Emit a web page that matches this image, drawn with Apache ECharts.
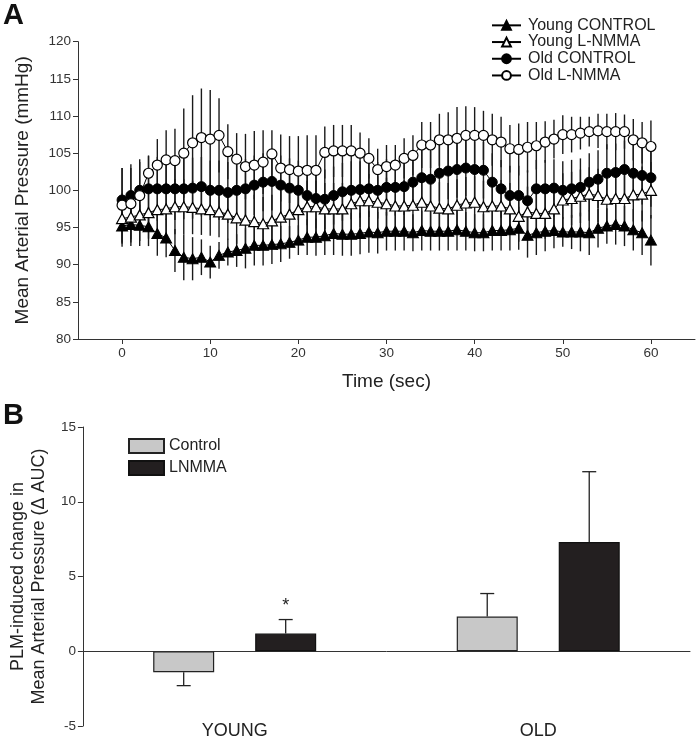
<!DOCTYPE html>
<html><head><meta charset="utf-8">
<script src="https://cdn.jsdelivr.net/npm/echarts@6/dist/echarts.min.js"></script>
<style>html,body{margin:0;padding:0;background:#fff}#c{width:698px;height:744px}</style>
</head><body><div id="c"></div>
<script>
// ---------- Panel A data ----------
const timeSec = [0,1,2,3,4,5,6,7,8,9,10,11,12,13,14,15,16,17,18,19,20,21,22,23,24,25,26,27,28,29,30,31,32,33,34,35,36,37,38,39,40,41,42,43,44,45,46,47,48,49,50,51,52,53,54,55,56,57,58,59,60];
const timeTicks = [0,10,20,30,40,50,60];

const youngControl = [95.2,95.4,95.3,95.1,94.2,93.6,91.9,91.0,90.8,91.0, 90.35,91.25,91.7,91.9,92.2,92.6,92.6,92.7,92.8,93.0, 93.3,93.7,93.7,93.9,94.2,94.1,94.1,94.2,94.4,94.3, 94.5,94.5,94.5,94.3,94.6,94.5,94.5,94.5,94.7,94.5, 94.3,94.3,94.6,94.6,94.7,94.9,93.95,94.3,94.5,94.6, 94.4,94.4,94.4,94.3,94.9,95.2,95.4,95.2,94.7,94.3,93.3];
const youngControlSD = [2.8,2.9,2.8,2.6,3.0,2.6,2.9,3.1,2.9,2.4, 2.2,1.8,1.8,2.2,2.7,2.7,2.7,2.6,2.45,2.2, 2.0,2.4,2.5,2.6,2.9,2.9,2.9,2.8,2.8,2.8, 2.6,2.6,2.6,2.5,2.7,2.6,2.6,2.6,2.8,2.6, 2.5,2.5,2.7,2.7,2.8,2.9,3.0,3.0,2.7,2.4, 2.0,2.3,2.6,3.0,2.6,2.4,2.7,2.7,2.8,3.0,3.4];

const youngLNMMA = [96.2,96.4,96.7,97.0,97.4,97.5,97.8,97.8,97.7,97.5, 97.4,97.1,96.8,96.3,96.0,95.8,95.5,95.9,96.4,96.8, 97.4,97.8,97.8,97.5,97.5,97.5,98.2,98.6,98.6,98.4, 98.2,97.9,97.9,98.0,98.4,97.9,97.6,97.5,98.0,98.3, 98.4,97.8,97.9,97.9,97.5,96.5,97.1,96.9,96.9,97.5, 98.7,98.9,99.2,99.5,99.3,98.8,98.9,98.9,99.4,99.5,100.0];
const youngLNMMASD = [3.4,3.4,3.5,3.5,3.6,3.6,3.7,3.7,3.6,3.5, 3.5,3.4,3.4,3.5,3.5,3.6,3.6,3.5,3.5,3.4, 3.5,3.5,3.5,3.5,3.5,3.5,3.6,3.6,3.6,3.5, 3.5,3.5,3.5,3.5,3.6,3.5,3.5,3.5,3.5,3.5, 3.5,3.5,3.5,3.5,3.5,3.4,3.4,3.4,3.4,3.5, 3.6,3.6,3.6,3.6,3.6,3.6,3.6,3.6,3.6,3.7,3.8];

const oldControl = [98.7,99.3,100.0,100.2,100.2,100.2,100.2,100.2,100.3,100.5, 100.0,100.0,99.7,100.0,100.2,100.7,101.1,101.2,100.7,100.3, 100.0,99.3,98.9,98.8,99.3,99.8,100.0,100.1,100.2,100.0, 100.4,100.4,100.5,101.1,101.7,101.5,102.3,102.6,102.8,103.0, 102.8,102.7,101.1,100.2,99.3,99.3,98.6,100.2,100.2,100.3, 100.0,100.2,100.4,101.1,101.5,102.3,102.4,102.8,102.3,102.0,101.7];
const oldControlSD = [4.3,4.2,4.2,4.4,4.3,4.2,4.2,4.1,4.1,4.0, 4.0,4.0,4.1,4.0,4.0,4.0,3.9,3.9,4.0,4.0, 4.0,4.0,4.0,4.0,3.9,3.9,3.9,3.8,3.8,3.8, 3.8,3.8,3.8,3.8,3.8,3.8,3.8,3.8,3.8,3.8, 3.8,3.8,3.9,3.9,4.0,4.0,4.1,3.9,3.9,3.9, 3.9,3.9,3.9,3.9,3.9,3.9,3.9,3.9,3.9,3.9,3.9];

const oldLNMMA = [98.0,98.2,99.3,102.3,103.4,104.1,104.0,105.0,106.4,107.1, 106.9,107.4,105.2,104.2,103.2,103.4,103.8,104.9,103.0,102.8, 102.6,102.7,102.7,105.1,105.3,105.3,105.3,105.0,104.3,102.8, 103.2,103.4,104.3,104.7,106.1,106.1,106.8,106.8,107.0,107.4, 107.4,107.4,106.8,106.5,105.6,105.5,105.8,106.0,106.5,106.9, 107.5,107.5,107.7,107.9,108.0,107.9,107.9,107.9,106.8,106.4,105.9];
const oldLNMMASD = [5.0,4.8,4.5,2.4,3.5,4.0,4.3,6.0,6.4,6.6, 6.6,5.0,3.7,3.5,4.4,4.6,4.3,3.2,4.5,4.5, 4.7,4.7,4.7,3.5,3.5,3.5,3.5,2.8,2.7,2.8, 2.9,2.7,2.7,2.7,3.1,3.1,3.5,3.7,4.2,3.9, 3.8,3.3,3.5,3.4,3.2,3.5,3.4,3.2,2.8,2.6, 2.6,2.4,2.2,2.0,2.3,2.4,2.5,2.3,2.8,2.8,3.5];

// ---------- Panel B data ----------
const groups = ['YOUNG', 'OLD'];
const controlMean = [-1.4, 2.32];
const controlErr = [0.9, 1.54];
const lnmmaMean = [1.18, 7.31];
const lnmmaErr = [0.94, 4.7];
const lnmmaSig = ['*', ''];

const FONT = 'Liberation Sans, Arial, Helvetica, sans-serif';
const INK = '#222';
const BAR_W = 61, BAR_GAP_PX = 41;

const chart = echarts.init(document.getElementById('c'), null, {renderer: 'canvas'});

function pairs(vals, sd) { return timeSec.map((t, i) => [t, vals[i] - sd[i], vals[i] + sd[i]]); }
function lineData(vals) { return timeSec.map((t, i) => [t, vals[i]]); }

function errA(name, vals, sd) {
  return {
    type: 'custom', name: name + ' err', xAxisIndex: 0, yAxisIndex: 0, z: 1, silent: true,
    data: pairs(vals, sd),
    renderItem: function (params, api) {
      const x = api.value(0);
      const lo = api.coord([x, api.value(1)]);
      const hi = api.coord([x, api.value(2)]);
      return {type: 'line', shape: {x1: lo[0], y1: lo[1], x2: hi[0], y2: hi[1]},
              style: {stroke: '#1a1a1a', lineWidth: 1.4}};
    }
  };
}

function lineA(name, vals, symbol, filled, z) {
  return {
    type: 'line', name: name, xAxisIndex: 0, yAxisIndex: 0, z: z,
    data: lineData(vals), symbol: symbol, symbolSize: symbol === 'triangle' ? [11, 10] : 10,
    showAllSymbol: true,
    lineStyle: {color: '#000', width: 1},
    itemStyle: filled ? {color: '#000', borderColor: '#000', borderWidth: 1}
                      : {color: '#fff', borderColor: '#000', borderWidth: 1.2},
    emphasis: {disabled: true}
  };
}

function errB(name, means, errs, side, sig) {
  return {
    type: 'custom', name: name + ' err', xAxisIndex: 1, yAxisIndex: 1, z: 3, silent: true,
    data: means.map((m, i) => [i, m, errs[i]]),
    renderItem: function (params, api) {
      const i = api.value(0), m = api.value(1), e = api.value(2);
      const dir = m >= 0 ? 1 : -1;
      const base = api.coord([i, m]);
      const tip = api.coord([i, m + dir * e]);
      const off = side * (BAR_W + BAR_GAP_PX) / 2;
      const x = base[0] + off;
      const children = [
        {type: 'line', shape: {x1: x, y1: base[1], x2: x, y2: tip[1]}, style: {stroke: '#222', lineWidth: 1.3}},
        {type: 'line', shape: {x1: x - 7, y1: tip[1], x2: x + 7, y2: tip[1]}, style: {stroke: '#222', lineWidth: 1.3}}
      ];
      if (sig && sig[params.dataIndex]) {
        children.push({type: 'text', x: x, y: tip[1] - 14,
          style: {text: sig[params.dataIndex], fontSize: 18, fontFamily: FONT, fill: '#222', align: 'center', verticalAlign: 'middle'}});
      }
      return {type: 'group', children: children};
    }
  };
}

const axisLineStyle = {color: '#333', width: 1};

const option = {
  animation: false,
  backgroundColor: '#fff',
  textStyle: {fontFamily: FONT},
  graphic: [
    {type: 'text', left: 3, top: 1, style: {text: 'A', fontSize: 29, fontWeight: 'bold', fontFamily: FONT, fill: '#111'}},
    {type: 'text', left: 3, top: 401, style: {text: 'B', fontSize: 29, fontWeight: 'bold', fontFamily: FONT, fill: '#111'}}
  ],
  legend: [
    {
      data: ['Young CONTROL', 'Young L-NMMA', 'Old CONTROL', 'Old L-NMMA'],
      orient: 'vertical', left: 491, top: 17, padding: 0, itemWidth: 29, itemHeight: 11, itemGap: 0,
      selectedMode: false,
      textStyle: {fontSize: 16, lineHeight: 16.7, color: INK, fontFamily: FONT, padding: [0, 0, 0, 2]}
    },
    {
      data: ['Control', 'LNMMA'],
      orient: 'vertical', left: 128, top: 438, padding: 0, itemWidth: 35, itemHeight: 14, itemGap: 6,
      selectedMode: false, icon: 'rect',
      textStyle: {fontSize: 16, color: INK, fontFamily: FONT}
    }
  ],
  grid: [
    {left: 78, top: 41.7, width: 617, height: 297.3},
    {left: 57, top: 427, width: 633, height: 299}
  ],
  xAxis: [
    {
      gridIndex: 0, type: 'value', min: -5, max: 65,
      name: 'Time (sec)', nameLocation: 'middle', nameGap: 33,
      nameTextStyle: {fontSize: 19, color: INK, fontFamily: FONT},
      axisLine: {onZero: false, lineStyle: axisLineStyle},
      axisTick: {customValues: timeTicks, length: 5, lineStyle: axisLineStyle},
      axisLabel: {customValues: timeTicks, fontSize: 13.5, color: '#333', margin: 7, fontFamily: FONT},
      splitLine: {show: false}
    },
    {
      gridIndex: 1, type: 'category', data: groups,
      axisLine: {onZero: true, lineStyle: axisLineStyle},
      axisTick: {show: false}, axisLabel: {show: false}, splitLine: {show: false}
    },
    {
      gridIndex: 1, type: 'category', data: groups, position: 'bottom',
      axisLine: {show: false, onZero: false}, axisTick: {show: false},
      axisLabel: {fontSize: 18, color: INK, margin: -4, fontFamily: FONT}, splitLine: {show: false}
    }
  ],
  yAxis: [
    {
      gridIndex: 0, type: 'value', min: 80, max: 120, interval: 5,
      name: 'Mean Arterial Pressure (mmHg)', nameLocation: 'middle', nameGap: 46,
      nameTextStyle: {fontSize: 19, color: INK, fontFamily: FONT},
      axisLine: {show: true, onZero: false, lineStyle: axisLineStyle},
      axisTick: {show: true, length: 5, lineStyle: axisLineStyle},
      axisLabel: {fontSize: 13.5, color: '#333', margin: 7, fontFamily: FONT},
      splitLine: {show: false}
    },
    {
      gridIndex: 1, type: 'value', min: -5, max: 15, interval: 5,
      name: 'PLM-induced change in\nMean Arterial Pressure (\u0394 AUC)', nameLocation: 'middle', nameGap: 13,
      nameTextStyle: {fontSize: 18, lineHeight: 21, color: INK, fontFamily: FONT},
      axisLine: {show: true, onZero: false, lineStyle: axisLineStyle},
      axisTick: {show: true, length: 5, lineStyle: axisLineStyle},
      axisLabel: {fontSize: 13.5, color: '#333', margin: 7, fontFamily: FONT},
      splitLine: {show: false}
    }
  ],
  series: [
    errA('Young CONTROL', youngControl, youngControlSD),
    errA('Young L-NMMA', youngLNMMA, youngLNMMASD),
    errA('Old CONTROL', oldControl, oldControlSD),
    errA('Old L-NMMA', oldLNMMA, oldLNMMASD),
    lineA('Young CONTROL', youngControl, 'triangle', true, 5),
    lineA('Young L-NMMA', youngLNMMA, 'triangle', false, 6),
    lineA('Old CONTROL', oldControl, 'circle', true, 7),
    lineA('Old L-NMMA', oldLNMMA, 'circle', false, 8),
    {
      type: 'bar', name: 'Control', xAxisIndex: 1, yAxisIndex: 1, z: 2,
      data: controlMean, barWidth: BAR_W, barGap: (BAR_GAP_PX / BAR_W * 100) + '%',
      itemStyle: {color: '#c8c8c8', borderColor: '#222', borderWidth: 1.2},
      emphasis: {disabled: true}
    },
    {
      type: 'bar', name: 'LNMMA', xAxisIndex: 1, yAxisIndex: 1, z: 2,
      data: lnmmaMean, barWidth: BAR_W, barGap: (BAR_GAP_PX / BAR_W * 100) + '%',
      itemStyle: {color: '#231f20', borderColor: '#111', borderWidth: 1.2},
      emphasis: {disabled: true}
    },
    errB('Control', controlMean, controlErr, -1, null),
    errB('LNMMA', lnmmaMean, lnmmaErr, 1, lnmmaSig)
  ]
};
chart.setOption(option);
</script></body></html>
